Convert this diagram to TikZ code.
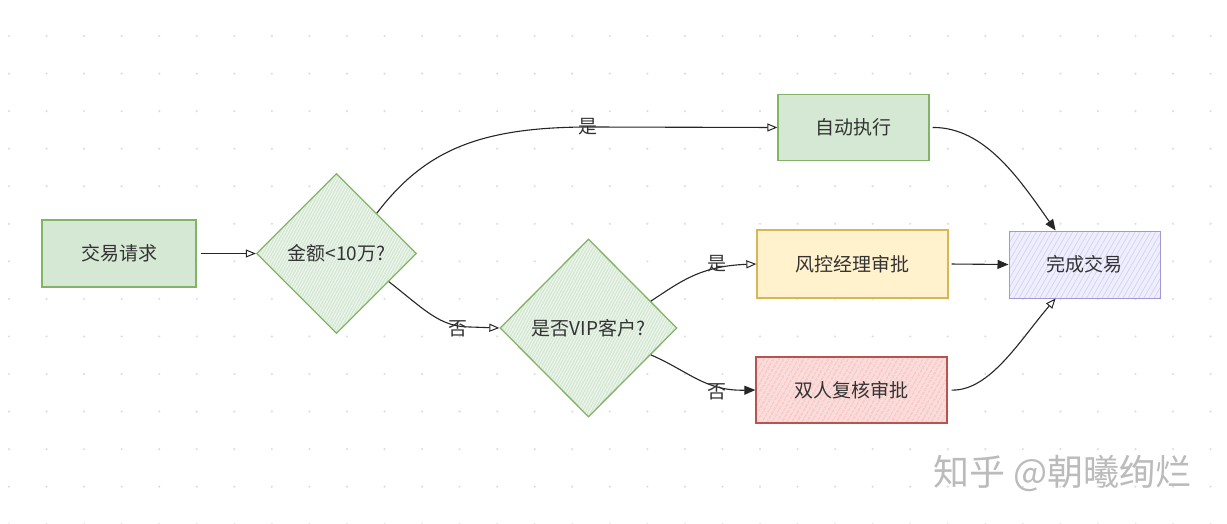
\documentclass[tikz,border=0pt]{standalone}
\usepackage{fontspec}
\setmainfont{Noto Sans CJK SC}
\usetikzlibrary{shapes.geometric,arrows.meta,patterns.meta,calc}
\definecolor{txt}{HTML}{333333}
\definecolor{gfill}{HTML}{D5E8D4}
\definecolor{gline}{HTML}{82B366}
\definecolor{yfill}{HTML}{FFF2CC}
\definecolor{yline}{HTML}{D6B656}
\definecolor{rfill}{HTML}{FADCDB}
\definecolor{rhatch}{HTML}{F2AFAD}
\definecolor{rline}{HTML}{B85450}
\definecolor{pfill}{HTML}{EFEEFD}
\definecolor{phatch}{HTML}{D4D0F6}
\definecolor{pline}{HTML}{A198D6}
\definecolor{dotc}{HTML}{DEDEDE}
\definecolor{wm}{HTML}{BBBBBB}
\begin{document}
\begin{tikzpicture}[x=1pt,y=-1pt,
  base/.style={font=\fontsize{19}{21}\selectfont, text=txt, line width=1.3pt, inner sep=0pt},
  greenbox/.style={base, rectangle, draw=gline, fill=gfill},
  yellowbox/.style={base, rectangle, draw=yline, fill=yfill},
  redbox/.style={base, rectangle, draw=rline,
    preaction={fill=rfill},
    preaction={pattern={Lines[angle=60,distance=4pt,line width=0.8pt]}, pattern color=rhatch}},
  purplebox/.style={base, rectangle, draw=pline, line width=1pt,
    preaction={fill=pfill},
    preaction={pattern={Lines[angle=60,distance=4.5pt,line width=0.7pt]}, pattern color=phatch}},
  decision/.style={base, diamond, aspect=1, draw=gline,
    preaction={fill=gfill},
    preaction={pattern={Lines[angle=62,distance=2.6pt,line width=0.9pt]}, pattern color=white!70!gfill}},
  flow/.style={draw=black!85, line width=1.1pt},
  openhead/.style={-{Triangle[open,length=10pt,width=8pt,line width=1pt]}},
  fullhead/.style={-{Triangle[length=11pt,width=9pt]}},
  lbl/.style={font=\fontsize{19}{21}\selectfont, text=txt, inner sep=1pt}
]
\useasboundingbox (0,0) rectangle (1227,524);
\fill[white] (0,0) rectangle (1227,524);
% dot grid
\foreach \i in {0,...,32}{
  \foreach \j in {0,...,14}{
    \fill[dotc] ({9+37.55*\i},{-1.5+37.55*\j}) circle (1.2);
  }
}
% nodes
\node[greenbox, minimum width=154pt, minimum height=67pt] (req) at (119,253.5) {交易请求};
\node[decision, minimum width=160pt, minimum height=160pt] (d1) at (336.5,253.5) {金额<10万?};
\node[decision, minimum width=177pt, minimum height=178pt] (d2) at (588.5,328) {是否VIP客户?};
\node[greenbox, minimum width=151pt, minimum height=66pt] (auto) at (853.5,127.5) {自动执行};
\node[yellowbox, minimum width=191pt, minimum height=68pt] (risk) at (852.5,264) {风控经理审批};
\node[redbox, minimum width=191pt, minimum height=66pt] (dual) at (851.5,390) {双人复核审批};
\node[purplebox, minimum width=151pt, minimum height=67pt] (done) at (1084.5,264.5) {完成交易};
% connectors
\draw[flow,openhead,shorten <=4pt] (req.east) -- (d1.west);
\draw[flow,openhead] (d1.north east) .. controls (425,150) and (480,127) .. (590,127) -- (auto.west);
\node[lbl] (l1) at (588,127) {是};
\coordinate (d1b) at ($(d1.east)!0.35!(d1.south)$);
\draw[flow,openhead] (d1b) .. controls (425,310) and (440,327) .. (470,327) -- (d2.west);
\node[lbl] (l2) at (458,329) {否};
\coordinate (d2a) at ($(d2.north)!0.7!(d2.east)$);
\coordinate (d2b) at ($(d2.east)!0.3!(d2.south)$);
\draw[flow,openhead] (d2a) .. controls (680,282) and (700,266) .. (risk.west);
\node[lbl] (l3) at (717,264) {是};
\draw[flow,fullhead] (d2b) .. controls (690,372) and (705,391) .. (dual.west);
\node[lbl] (l4) at (717,392) {否};
\coordinate (doneTop) at ($(done.north west)!0.31!(done.north east)$);
\coordinate (doneBot) at ($(done.south west)!0.31!(done.south east)$);
\draw[flow,fullhead,shorten <=3pt] (auto.east) .. controls (985,127) and (1020,180) .. (doneTop);
\draw[flow,fullhead,shorten <=3pt] (risk.east) -- (done.west);
\draw[flow,openhead,shorten <=4pt] (dual.east) .. controls (990,391) and (1020,340) .. (doneBot);
% watermark
\node[font=\fontsize{36}{40}\selectfont, text=wm, anchor=west, inner sep=0pt] (wmark) at (933,473) {知乎 @朝曦绚烂};
\end{tikzpicture}
\end{document}
